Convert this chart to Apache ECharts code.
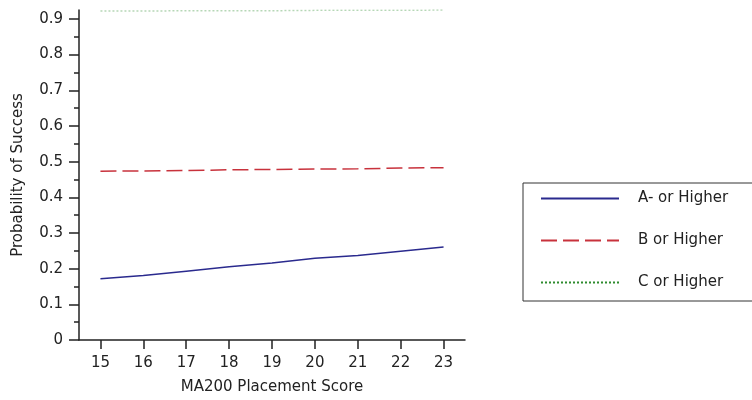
<!DOCTYPE html>
<html>
<head>
<meta charset="utf-8">
<script src="https://cdn.jsdelivr.net/npm/echarts@6/dist/echarts.min.js"></script>
<style>
  html, body { margin: 0; padding: 0; background: #fff; }
  #chart { width: 752px; height: 400px; }
</style>
</head>
<body>
<div id="chart"></div>
<script>
// Placement score on the x axis
const scores = [15, 16, 17, 18, 19, 20, 21, 22, 23];
// Predicted probability of reaching each grade
const aOrHigher = [0.172, 0.181, 0.193, 0.205, 0.216, 0.229, 0.237, 0.249, 0.261];
const bOrHigher = [0.473, 0.474, 0.475, 0.477, 0.478, 0.479, 0.480, 0.482, 0.483];
const cOrHigher = [0.922, 0.922, 0.923, 0.923, 0.923, 0.924, 0.924, 0.924, 0.925];
const seriesNames = ['A- or Higher', 'B or Higher', 'C or Higher'];
const yTicks = [0, 0.1, 0.2, 0.3, 0.4, 0.5, 0.6, 0.7, 0.8, 0.9];
const yMinorTicks = [0.05, 0.15, 0.25, 0.35, 0.45, 0.55, 0.65, 0.75, 0.85];

const FONT = 'DejaVu Sans';
const INK = '#222';

const pairs = vals => scores.map((s, i) => [s, vals[i]]);

const chart = echarts.init(document.getElementById('chart'), null, { renderer: 'canvas' });

chart.setOption({
  backgroundColor: '#fff',
  animation: false,
  grid: { left: 79, right: 287, top: 10, bottom: 59, containLabel: false },
  legend: {
    orient: 'vertical',
    left: 523,
    top: 183,
    padding: [8, 140, 11, 17],
    itemWidth: 78,
    itemHeight: 14,
    itemGap: 27,
    borderColor: '#333',
    borderWidth: 1,
    itemStyle: { opacity: 0 },
    lineStyle: { opacity: 1 },
    textStyle: { fontFamily: FONT, fontSize: 15, color: INK, padding: [0, 0, 0, 14] },
    data: seriesNames
  },
  xAxis: {
    type: 'value',
    min: 14.5,
    max: 23.5,
    name: 'MA200 Placement Score',
    nameLocation: 'middle',
    nameGap: 40,
    nameTextStyle: { fontFamily: FONT, fontSize: 15, color: INK },
    axisLine: { lineStyle: { color: INK, width: 1.5 } },
    axisTick: { length: 9, customValues: scores, lineStyle: { color: INK, width: 1.5 } },
    axisLabel: { customValues: scores, margin: 16, fontFamily: FONT, fontSize: 15, color: INK },
    splitLine: { show: false }
  },
  yAxis: [
    {
      type: 'value',
      min: 0,
      max: 0.925,
      position: 'left',
      name: 'Probability of Success',
      nameLocation: 'middle',
      nameGap: 53,
      nameTextStyle: { fontFamily: FONT, fontSize: 15, color: INK },
      axisLine: { show: true, lineStyle: { color: INK, width: 1.5 } },
      axisTick: { show: true, length: 10, customValues: yTicks, lineStyle: { color: INK, width: 1.5 } },
      axisLabel: {
        customValues: yTicks,
        margin: 16,
        fontFamily: FONT, fontSize: 15, color: INK,
        formatter: v => (v === 0 ? '0' : v.toFixed(1))
      },
      splitLine: { show: false }
    },
    {
      // minor ticks between labelled values
      type: 'value',
      min: 0,
      max: 0.925,
      position: 'left',
      offset: 0,
      axisLine: { show: false },
      axisTick: { show: true, length: 5, customValues: yMinorTicks, lineStyle: { color: INK, width: 1.5 } },
      axisLabel: { show: false },
      splitLine: { show: false }
    }
  ],
  series: [
    {
      name: seriesNames[0],
      type: 'line',
      data: pairs(aOrHigher),
      symbol: 'none',
      lineStyle: { color: '#2a2a8e', width: 1.5, type: 'solid' },
      itemStyle: { color: '#2a2a8e' }
    },
    {
      name: seriesNames[1],
      type: 'line',
      data: pairs(bOrHigher),
      symbol: 'none',
      lineStyle: { color: '#c8323c', width: 1.5, type: [16, 6] },
      itemStyle: { color: '#c8323c' }
    },
    {
      name: seriesNames[2],
      type: 'line',
      data: pairs(cOrHigher),
      symbol: 'none',
      lineStyle: { color: '#2e8b2e', width: 1.5, type: [2, 2], opacity: 0.35 },
      itemStyle: { color: '#2e8b2e' }
    }
  ]
});
</script>
</body>
</html>
